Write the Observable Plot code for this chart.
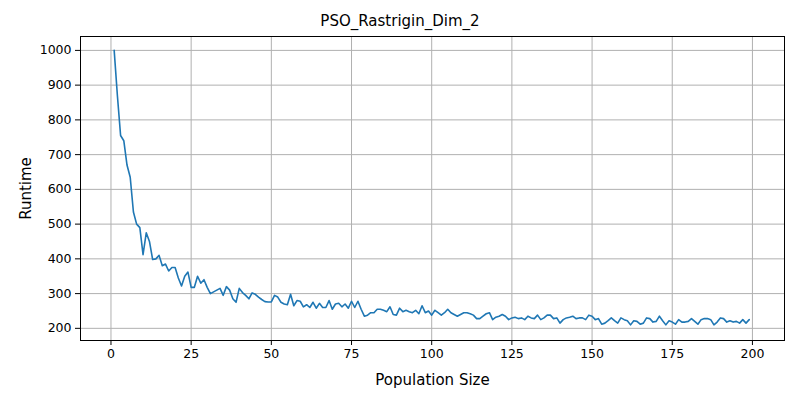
<!DOCTYPE html>
<html><head><meta charset="utf-8">
<script src="https://cdn.jsdelivr.net/npm/d3@7"></script>
<script src="https://cdn.jsdelivr.net/npm/@observablehq/plot@0.6"></script>
<style>body{margin:0;background:#fff;font-family:"DejaVu Sans",sans-serif}
g[aria-label="x-axis label"],g[aria-label="y-axis label"]{font-size:15px}</style>
</head><body><div id="c"></div>
<script>
const title = "PSO_Rastrigin_Dim_2";
const runtime = [1000,870,755,740,670,635,535,500,490,412,475,450,398,400,410,380,385,365,375,375,
345,322,350,362,318,318,350,330,340,318,300,305,310,315,295,320,310,285,275,315,
303,295,285,302,298,290,283,277,276,276,295,290,275,270,268,298,265,280,278,262,
268,260,275,258,272,260,260,280,255,270,272,262,270,258,278,260,278,255,235,238,
245,245,255,255,252,248,262,240,238,258,248,252,248,245,252,242,265,245,250,238,
252,245,238,245,255,245,240,235,240,245,245,242,238,228,228,235,242,245,225,232,
235,240,235,225,230,232,228,230,225,235,230,228,238,225,230,238,238,228,230,215,
225,230,232,235,228,230,230,225,238,235,225,228,212,215,222,230,222,215,230,225,
222,210,222,220,212,215,230,228,218,220,235,222,210,222,218,212,225,218,218,220,
228,220,212,225,228,228,225,210,218,230,228,218,222,218,220,215,225,215,225];
const sizes = runtime.map((_, i) => i + 1);
const data = sizes.map((s, i) => ({s, r: runtime[i]}));
const c = document.getElementById("c");
const h = document.createElement("div");
h.textContent = title;
h.style.cssText = "position:absolute;top:12px;left:0;width:800px;text-align:center;font-size:15px";
c.appendChild(h);
const p = Plot.plot({
  width: 800, height: 400,
  marginTop: 36, marginLeft: 80, marginRight: 16, marginBottom: 60,
  style: {fontSize: "12.5px", fontFamily: "DejaVu Sans"},
  x: {domain: [-9.5, 210], ticks: [0,25,50,75,100,125,150,175,200], label: "Population Size", labelArrow: "none", labelAnchor: "center", labelOffset: 44, grid: true, tickSize: 5},
  y: {domain: [165, 1040], ticks: d3.range(200, 1001, 100), tickFormat: "d", label: "Runtime", labelArrow: "none", labelAnchor: "center", labelOffset: 60, grid: true, tickSize: 5},
  marks: [
    Plot.frame({stroke: "black"}),
    Plot.line(data, {x: "s", y: "r", stroke: "#1f77b4", strokeWidth: 1.6})
  ]
});
p.querySelectorAll("[aria-label='x-grid'], [aria-label='y-grid']").forEach(g=>{g.setAttribute("stroke","#b0b0b0");g.setAttribute("stroke-opacity","1");});
c.appendChild(p);
</script></body></html>
